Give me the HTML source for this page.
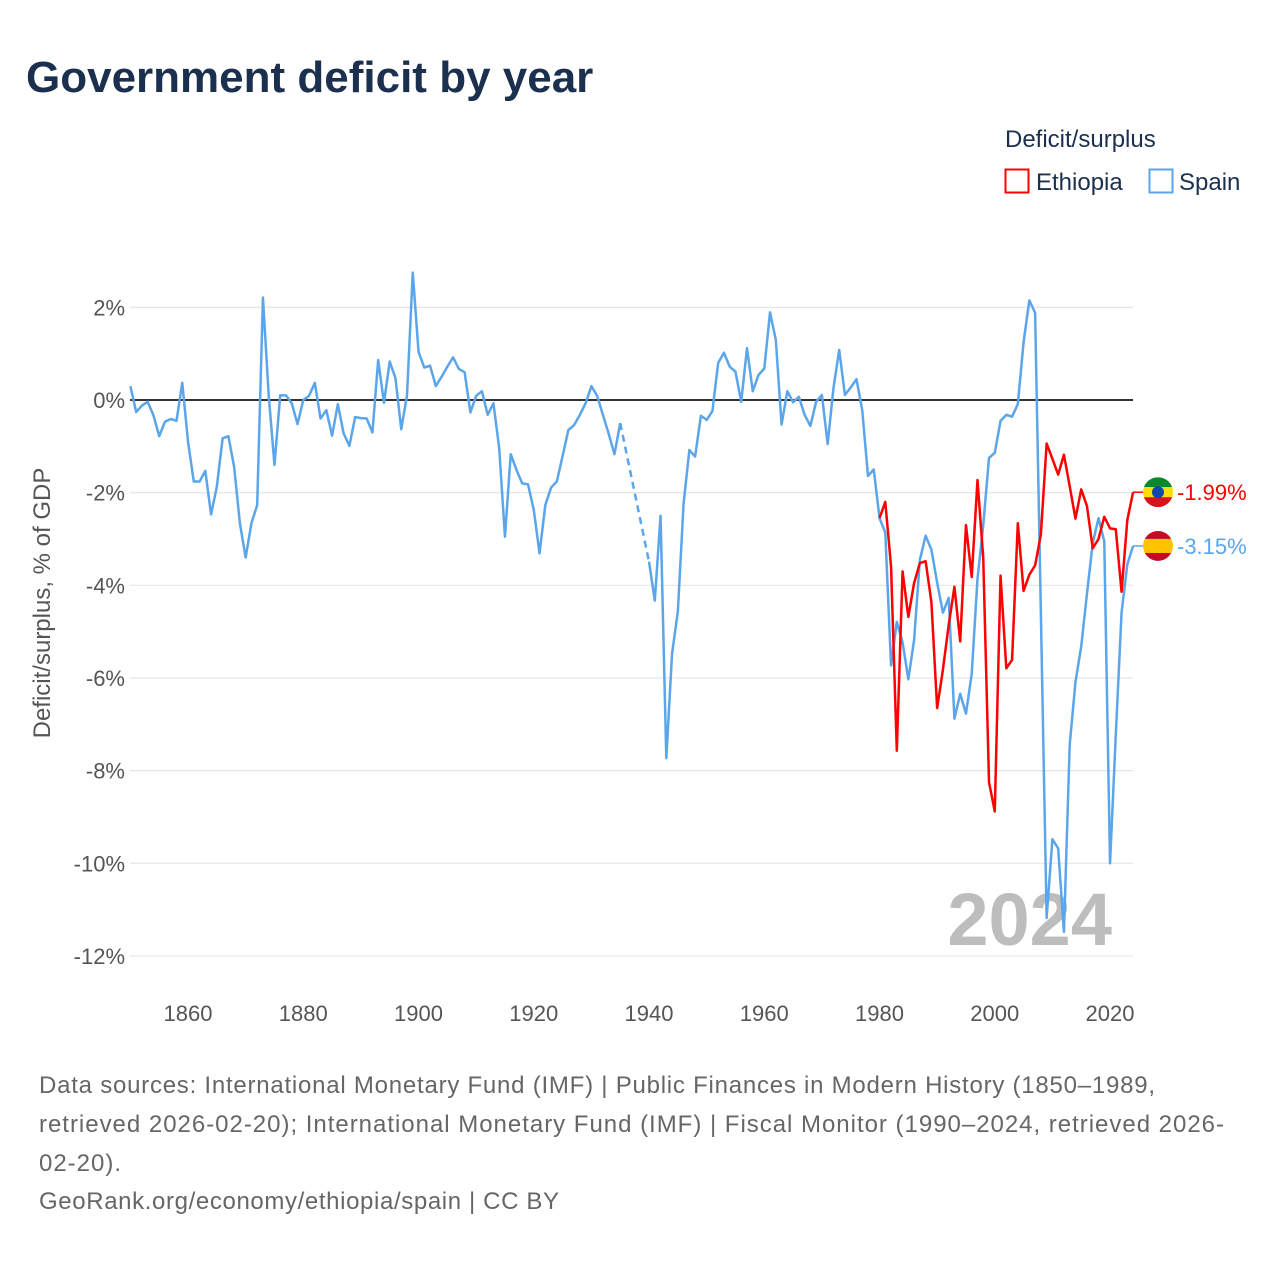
<!DOCTYPE html>
<html><head><meta charset="utf-8"><style>
body{margin:0;background:#fff;font-family:"Liberation Sans",sans-serif;}
#wrap{position:relative;width:1280px;height:1280px;overflow:hidden;}
</style></head><body>
<div id="wrap">
<svg id="chart" width="1280" height="1280" style="font-family:'Liberation Sans',sans-serif">
<text x="26" y="92" font-size="44" font-weight="bold" fill="#1b2f4e">Government deficit by year</text>
<text x="1005" y="147" font-size="24" fill="#1b2f4e">Deficit/surplus</text>
<g><rect x="1005.5" y="169.5" width="23" height="23" fill="none" stroke="#ff0000" stroke-width="2"/><text x="1036" y="190" font-size="24" fill="#1b2f4e">Ethiopia</text></g>
<g><rect x="1149.5" y="169.5" width="23" height="23" fill="none" stroke="#5ba5ea" stroke-width="2"/><text x="1179" y="190" font-size="24" fill="#1b2f4e">Spain</text></g>
<text transform="translate(50,603) rotate(-90)" text-anchor="middle" font-size="24" fill="#555">Deficit/surplus, % of GDP</text>
<g id="grid"></g><g id="xt"></g>
<text x="1112" y="945" text-anchor="end" font-size="74" font-weight="bold" fill="#bdbdbd">2024</text>
<g id="series"></g><g id="endl"></g>
<g font-size="24" fill="#666">
<text x="39" y="1093" textLength="1116" lengthAdjust="spacing">Data sources: International Monetary Fund (IMF) | Public Finances in Modern History (1850–1989,</text>
<text x="39" y="1132" textLength="1185" lengthAdjust="spacing">retrieved 2026-02-20); International Monetary Fund (IMF) | Fiscal Monitor (1990–2024, retrieved 2026-</text>
<text x="39" y="1171" textLength="82" lengthAdjust="spacing">02-20).</text>
<text x="39" y="1209" textLength="520" lengthAdjust="spacing">GeoRank.org/economy/ethiopia/spain | CC BY</text>
</g>
</svg></div>
<script>
const yTicks=[2,0,-2,-4,-6,-8,-10,-12];
const xTicks=[1860,1880,1900,1920,1940,1960,1980,2000,2020];
const spainStart=1850;
const spainValues=[0.3,-0.26,-0.12,-0.04,-0.33,-0.78,-0.47,-0.41,-0.45,0.37,-0.9,-1.76,-1.76,-1.53,-2.47,-1.87,-0.83,-0.78,-1.44,-2.66,-3.4,-2.66,-2.27,2.21,0.1,-1.4,0.1,0.1,-0.07,-0.52,0,0.09,0.37,-0.4,-0.22,-0.77,-0.09,-0.72,-0.99,-0.37,-0.39,-0.4,-0.7,0.86,-0.06,0.83,0.47,-0.63,0.1,2.75,1.04,0.7,0.74,0.3,0.5,0.72,0.92,0.67,0.6,-0.27,0.09,0.19,-0.32,-0.07,-1.04,-2.95,-1.17,-1.51,-1.8,-1.82,-2.37,-3.31,-2.27,-1.89,-1.76,-1.21,-0.65,-0.54,-0.32,-0.07,0.3,0.09,-0.32,-0.73,-1.17,-0.5,null,null,null,null,-3.49,-4.33,-2.5,-7.73,-5.47,-4.57,-2.23,-1.08,-1.22,-0.34,-0.43,-0.24,0.8,1.02,0.72,0.61,-0.04,1.12,0.19,0.54,0.68,1.89,1.3,-0.53,0.19,-0.05,0.07,-0.32,-0.56,-0.04,0.11,-0.95,0.25,1.08,0.11,0.27,0.45,-0.22,-1.64,-1.5,-2.55,-2.86,-5.73,-4.79,-5.23,-6.03,-5.18,-3.45,-2.93,-3.23,-3.94,-4.59,-4.27,-6.88,-6.34,-6.77,-5.91,-3.86,-2.7,-1.25,-1.14,-0.45,-0.32,-0.36,-0.09,1.25,2.15,1.88,-4.6,-11.18,-9.48,-9.68,-11.48,-7.45,-6.09,-5.32,-4.18,-3.09,-2.55,-3.05,-10.0,-7.23,-4.59,-3.55,-3.15];
const ethStart=1980;
const ethValues=[-2.55,-2.2,-3.59,-7.57,-3.7,-4.68,-3.95,-3.52,-3.48,-4.36,-6.65,-5.82,-4.86,-4.03,-5.21,-2.7,-3.82,-1.73,-3.41,-8.25,-8.88,-3.79,-5.79,-5.61,-2.66,-4.12,-3.77,-3.57,-2.9,-0.94,-1.27,-1.61,-1.18,-1.86,-2.56,-1.93,-2.29,-3.2,-3.0,-2.52,-2.77,-2.79,-4.14,-2.59,-1.99];
const endLabels=["-1.99%","-3.15%"];

const NS="http://www.w3.org/2000/svg";
const X=y=>130.4+(y-1850)*5.7625;
const Y=v=>400-v*46.33;
function mk(tag,attrs,parent){const e=document.createElementNS(NS,tag);for(const k in attrs)e.setAttribute(k,attrs[k]);parent.appendChild(e);return e;}
const grid=document.getElementById('grid');
yTicks.forEach(t=>{
  const l=mk('line',{x1:130,x2:1133,y1:Y(t),y2:Y(t),stroke:t===0?'#333':'#e6e6e6','stroke-width':t===0?2:1.2},grid);
  
  
  const tx=mk('text',{x:125,y:Y(t)+8,'text-anchor':'end','font-size':22,fill:'#555'},grid);
  tx.textContent=t+'%';
  
  
});
const xt=document.getElementById('xt');
xTicks.forEach(t=>{
  const tx=mk('text',{x:X(t),y:1021,'text-anchor':'middle','font-size':22,fill:'#555'},xt);
  tx.textContent=t;
  
  
});
const ser=document.getElementById('series');
function draw(start,vals,color,name){
  let seg=[],prev=null;
  vals.forEach((v,i)=>{
    const yr=start+i;
    if(v===null){if(seg.length>1)solid(seg);seg=[];return;}
    const p=[X(yr),Y(v)];
    if(seg.length===0&&prev&&prev.i<i-1){
      const d=mk('line',{x1:prev.p[0],y1:prev.p[1],x2:p[0],y2:p[1],stroke:color,'stroke-width':2.5,'stroke-dasharray':'7,5'},ser);
      
      
    }
    seg.push(p);prev={i,p};
  });
  if(seg.length>1)solid(seg);
  function solid(s){
    const pl=mk('polyline',{points:s.map(p=>p.join(',')).join(' '),fill:'none',stroke:color,'stroke-width':2.5,'stroke-linejoin':'round'},ser);
    
    
  }
}
draw(spainStart,spainValues,'#5ba5ea','spain');
draw(ethStart,ethValues,'#ff0000','ethiopia');
const endl=document.getElementById('endl');
function endLabel(v,txt,color,name,flag){
  const y=Y(v);
  mk('line',{x1:X(2024),x2:1144,y1:y,y2:y,stroke:color,'stroke-width':1.5},endl);
  const g=mk('g',{},endl);
  
  
  const cp=mk('clipPath',{id:'c'+name},g);mk('circle',{cx:1158,cy:y,r:15},cp);
  const inner=mk('g',{'clip-path':'url(#c'+name+')'},g);
  flag.forEach(([c,y0,h])=>mk('rect',{x:1143,y:y-15+y0,width:30,height:h,fill:c},inner));
  if(name==='ethiopia'){mk('circle',{cx:1158,cy:y,r:6,fill:'#0f47af'},inner);}
  const t=mk('text',{x:1177,y:y+8,'font-size':22,fill:color},endl);
  t.textContent=txt;
  
  
}
endLabel(ethValues[ethValues.length-1],endLabels[0],'#ff0000','ethiopia',[['#078930',0,10],['#fcdd09',10,10],['#da121a',20,10]]);
endLabel(spainValues[spainValues.length-1],endLabels[1],'#5ba5ea','spain',[['#c60b1e',0,8],['#ffc400',8,14],['#c60b1e',22,8]]);
</script>
</body></html>
